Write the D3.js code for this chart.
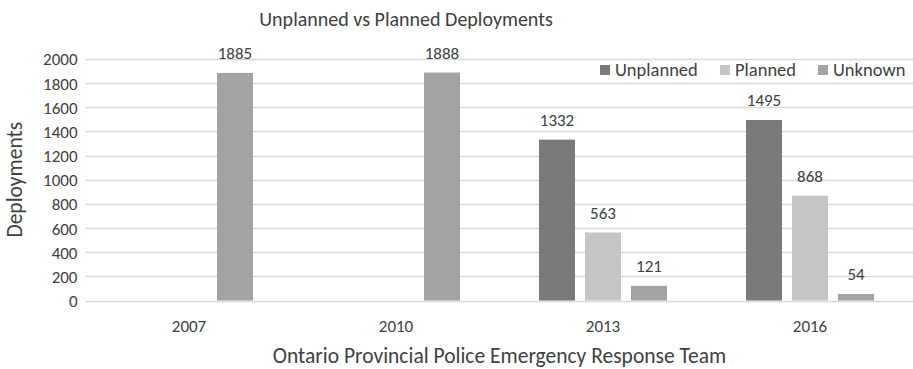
<!DOCTYPE html>
<html>
<head>
<meta charset="utf-8">
<script src="https://cdn.jsdelivr.net/npm/d3@7"></script>
<style>
  html, body { margin: 0; padding: 0; background: #fff; }
  svg { display: block; font-family: Carlito, Lato, "Open Sans", sans-serif; }
</style>
</head>
<body>
<svg id="chart" width="913" height="369"></svg>
<script>
// Deployment counts per survey year
const years = ["2007", "2010", "2013", "2016"];
const seriesNames = ["Unplanned", "Planned", "Unknown"];
const unplanned = [null, null, 1332, 1495];
const planned = [null, null, 563, 868];
const unknown = [1885, 1888, 121, 54];
const yTicks = [0, 200, 400, 600, 800, 1000, 1200, 1400, 1600, 1800, 2000];
const seriesColors = ["#7a7a7a", "#c5c5c5", "#a3a3a3"];

const seriesValues = [unplanned, planned, unknown];

const svg = d3.select("#chart");
const textColor = "#404040";
const numSize = 17;
const legendSize = 18.5;
const axisTitleSize = 21.5;

const plot = { left: 85.5, right: 913.5, top: 59, bottom: 300.5 };

const x0 = d3.scaleBand().domain(years).range([plot.left, plot.right]).paddingInner(0).paddingOuter(0);
const x1 = d3.scaleBand().domain(seriesNames).range([0, x0.bandwidth()])
  .paddingInner(10 / 46).paddingOuter(0.8587);
const y = d3.scaleLinear().domain([0, 2000]).range([plot.bottom, plot.top]);

// Horizontal gridlines
svg.append("g")
  .selectAll("line")
  .data(yTicks)
  .join("line")
  .attr("x1", plot.left)
  .attr("x2", plot.right)
  .attr("y1", d => Math.round(y(d)) + 0.5)
  .attr("y2", d => Math.round(y(d)) + 0.5)
  .attr("stroke", "#d9d9d9")
  .attr("stroke-width", 1.3);

// Y axis tick labels
const yAxis = d3.axisLeft(y).tickValues(yTicks).tickFormat(d3.format("d")).tickSize(0).tickPadding(0);
const yg = svg.append("g")
  .attr("transform", `translate(${plot.left - 8},0)`)
  .call(yAxis)
  .attr("font-family", null)
  .attr("font-size", numSize);
yg.select(".domain").remove();
yg.selectAll("text")
  .attr("fill", textColor)
  .attr("dy", "0.35em");

// X axis category labels
const xAxis = d3.axisBottom(x0).tickSize(0).tickPadding(0);
const xg = svg.append("g")
  .attr("transform", `translate(0,${plot.bottom})`)
  .call(xAxis)
  .attr("font-family", null)
  .attr("font-size", numSize);
xg.select(".domain").remove();
xg.selectAll("text")
  .attr("fill", textColor)
  .attr("dy", null)
  .attr("y", 31);

// Bars and value labels
const rows = years.map((yr, i) => ({
  year: yr,
  items: seriesNames.map((s, j) => ({ key: s, idx: j, value: seriesValues[j][i] }))
    .filter(d => d.value != null)
}));

const groups = svg.append("g")
  .selectAll("g")
  .data(rows)
  .join("g")
  .attr("transform", d => `translate(${x0(d.year)},0)`);

groups.selectAll("rect")
  .data(d => d.items)
  .join("rect")
  .attr("x", d => x1(d.key))
  .attr("width", x1.bandwidth())
  .attr("y", d => y(d.value))
  .attr("height", d => y(0) - y(d.value))
  .attr("fill", d => seriesColors[d.idx]);

groups.selectAll("text")
  .data(d => d.items)
  .join("text")
  .attr("x", d => x1(d.key) + x1.bandwidth() / 2)
  .attr("y", d => y(d.value) - 13.5)
  .attr("text-anchor", "middle")
  .attr("font-size", numSize)
  .attr("fill", textColor)
  .text(d => d.value);

// Title
svg.append("text")
  .attr("x", 406)
  .attr("y", 26)
  .attr("text-anchor", "middle")
  .attr("font-size", 20)
  .attr("fill", textColor)
  .text("Unplanned vs Planned Deployments");

// Axis titles
svg.append("text")
  .attr("x", (plot.left + plot.right) / 2)
  .attr("y", 363)
  .attr("text-anchor", "middle")
  .attr("font-size", axisTitleSize)
  .attr("fill", textColor)
  .text("Ontario Provincial Police Emergency Response Team");

svg.append("text")
  .attr("transform", `translate(22,${(plot.top + plot.bottom) / 2}) rotate(-90)`)
  .attr("text-anchor", "middle")
  .attr("font-size", axisTitleSize)
  .attr("fill", textColor)
  .text("Deployments");

// Legend
const legendX = [600, 720, 818];
const legend = svg.append("g")
  .selectAll("g")
  .data(seriesNames)
  .join("g")
  .attr("transform", (d, i) => `translate(${legendX[i]},70)`);
legend.append("rect")
  .attr("x", 0)
  .attr("y", -5)
  .attr("width", 10)
  .attr("height", 10)
  .attr("fill", (d, i) => seriesColors[i]);
legend.append("text")
  .attr("x", 15)
  .attr("y", 0)
  .attr("dy", "0.35em")
  .attr("font-size", legendSize)
  .attr("fill", textColor)
  .text(d => d);
</script>
</body>
</html>
